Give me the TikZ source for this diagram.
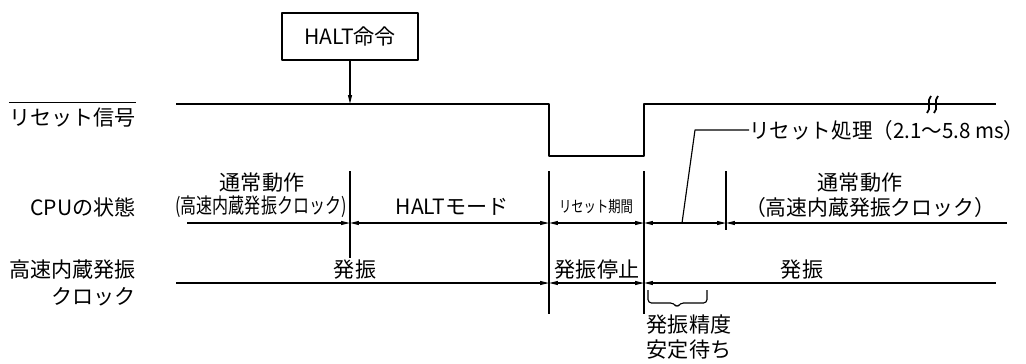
\documentclass[tikz,border=0pt]{standalone}
\usepackage{fontspec}
\setmainfont{Noto Sans CJK JP}
\usetikzlibrary{arrows.meta}
\tikzset{
  sigline/.style={line width=1.5pt},
  thin/.style={line width=0.65pt},
  dimR/.style={thin, -{Triangle[length=5pt,width=2.2pt]}},
  dimL/.style={thin, {Triangle[length=5pt,width=2.2pt]}-},
  dimB/.style={thin, {Triangle[length=5pt,width=2.2pt]}-{Triangle[length=5pt,width=2.2pt]}},
  lbl/.style={inner sep=0pt, font=\fontsize{12}{14}\selectfont},
}
\begin{document}
\begin{tikzpicture}[x=0.02cm, y=-0.02cm, line join=round, line cap=butt]
\useasboundingbox (0,0) rectangle (1026,363);
% time points
\path
  (350,171) coordinate (t1) (350,258) coordinate (t1b)
  (549,171) coordinate (t2) (549,314) coordinate (t2b)
  (644,171) coordinate (t3) (644,314) coordinate (t3b)
  (726,171) coordinate (t4) (726,230) coordinate (t4b)
  (187,223) coordinate (c0) (1007,223) coordinate (c5)
  (176,283) coordinate (k0) (996,283) coordinate (k3);
% row labels
\node[lbl, anchor=east] (rstlbl) at (136,118) {リセット信号};
\draw[thin] ([yshift=3pt]rstlbl.north west) -- ([yshift=3pt]rstlbl.north east);
\node[lbl, anchor=east] (cpulbl) at (136,207) {CPUの状態};
\node[lbl, anchor=east] (osclbl) at (136,270) {高速内蔵発振};
\node[lbl, anchor=east] (osclbl2) at (136,297) {クロック};
% HALT instruction
\node[draw, thin, lbl, minimum width=2.72cm, minimum height=0.94cm] (halt) at (350,36.5) {HALT命令};
\coordinate (haltpt) at (350,104);
\draw[dimR] (halt.south) -- (haltpt);
% reset signal
\path
  (176,104) coordinate (r0) (549,104) coordinate (r1)
  (549,156) coordinate (r2) (644,156) coordinate (r3)
  (644,104) coordinate (r4) (996,104) coordinate (r5);
\draw[sigline] (r0)--(r1)--(r2)--(r3)--(r4)--(r5);
% break mark
\foreach \bx in {929,936}
  \draw[line width=1pt] (\bx+2,96) .. controls (\bx-3,100) and (\bx+3,109) .. (\bx-2,113);
% timing ticks
\draw[thin] (t1)--(t1b) (t2)--(t2b) (t3)--(t3b) (t4)--(t4b);
% CPU state
\draw[dimR] (c0) -- (t1 |- c0);
\draw[dimB] (t1 |- c0) -- (t2 |- c0);
\draw[dimB] (t2 |- c0) -- (t3 |- c0);
\draw[dimB] (t3 |- c0) -- (t4 |- c0);
\draw[dimL] (t4 |- c0) -- (c5);
\node[lbl] (run1) at (262,183) {通常動作};
\node[lbl] (run1b) at (261,207) {\resizebox{3.42cm}{\height}{(高速内蔵発振クロック)}};
\node[lbl] (haltmd) at (452,207) {HALTモード};
\node[inner sep=0pt, font=\fontsize{9}{10}\selectfont] (rstper) at (596,207) {\resizebox{1.48cm}{\height}{リセット期間}};
\node[lbl] (run2) at (860,183) {通常動作};
\node[lbl] (run2b) at (870,207) {\resizebox{5cm}{\height}{（高速内蔵発振クロック）}};
% reset processing leader
\coordinate (ldr0) at (682,223);
\coordinate (ldr1) at (695,130);
\node[lbl, anchor=west] (rstproc) at (749,130) {\resizebox{5.5cm}{\height}{リセット処理（2.1～5.8 ms）}};
\draw[thin] (ldr0) -- (ldr1) -- (rstproc.west);
% oscillator
\draw[dimR] (k0) -- (t2 |- k0);
\draw[dimB] (t2 |- k0) -- (t3 |- k0);
\draw[dimL] (t3 |- k0) -- (k3);
\node[lbl] (osc1) at (355,270) {発振};
\node[lbl] (oscstop) at (597,270) {発振停止};
\node[lbl] (osc2) at (802,270) {発振};
% stabilization wait
\draw[thin, rounded corners=2pt] (648,290) -- (648,303) -- (674,303) -- (677,308) -- (680,303) -- (707,303) -- (707,290);
\node[lbl] (wait1) at (689,325) {発振精度};
\node[lbl] (wait2) at (689,350) {安定待ち};
\end{tikzpicture}
\end{document}
